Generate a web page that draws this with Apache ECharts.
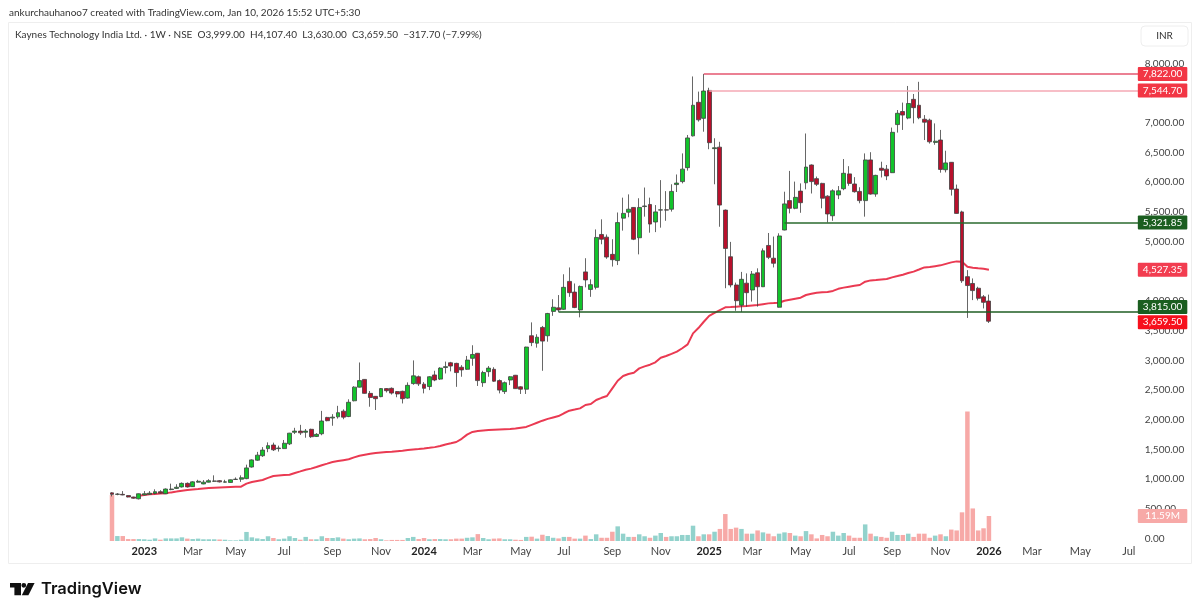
<!DOCTYPE html>
<html><head><meta charset="utf-8">
<style>html,body{margin:0;padding:0;background:#fff}#c{width:1200px;height:614px}</style>
<script src="https://cdn.jsdelivr.net/npm/echarts@6/dist/echarts.min.js"></script>
</head><body><div id="c"></div>
<script>
const opens=[770,745,745,725,700,670,735,745,760,790,
755,825,845,870,930,875,950,920,950,965,
975,950,945,995,1000,1010,1205,1320,1395,1515,
1575,1515,1515,1595,1790,1810,1790,1840,1720,1765,
2040,2030,2050,2145,2055,2320,2550,2680,2445,2395,
2390,2525,2530,2475,2480,2365,2610,2725,2600,2560,
2755,2685,2880,2960,2950,2885,2850,3035,3120,2625,
2810,2850,2660,2475,2670,2750,2555,2515,3415,3290,
3555,3415,3825,3885,3860,4330,4150,3850,4490,4195,
4230,5120,5075,4785,4680,5395,5495,5575,5065,5590,
5625,5330,5530,5535,5545,5960,6010,6245,6780,7345,
7075,7545,6565,6590,5530,4745,4270,3930,4300,4185,
4475,4240,4935,4720,3895,5195,5690,5560,5850,5990,
6290,6060,5980,5765,5435,5785,5890,6140,5970,5845,
5690,6375,5800,6235,6220,6160,6970,7190,7080,7395,
7295,7060,7045,6670,6710,6210,6335,5885,5500,4410,
4295,4215,4070,3999];
const closes=[745,750,735,700,680,755,755,765,790,765,
835,835,865,930,870,955,965,950,975,970,
955,955,990,1000,1025,1190,1325,1405,1490,1565,
1495,1525,1605,1775,1810,1780,1810,1715,1755,1980,
1985,2045,2120,2045,2295,2550,2660,2445,2375,2355,
2525,2490,2450,2435,2355,2580,2740,2605,2530,2725,
2670,2870,2895,2905,2795,2840,3005,3100,2660,2795,
2870,2650,2500,2625,2725,2525,2515,3225,3300,3390,
3325,3790,3895,3850,4230,4140,3890,4245,4355,4275,
5070,5040,4740,4695,5320,5475,5545,5040,5575,5600,
5295,5500,5535,5530,5845,5985,6220,6745,7295,7050,
7535,6665,6580,5615,4885,4270,4005,4365,4140,4455,
4240,4845,4735,4635,5095,5635,5560,5745,5655,6255,
6010,5965,5730,5465,5855,5855,6150,5980,5840,5690,
6375,5800,6115,6200,6105,6840,7160,7130,7325,7255,
7085,7010,6680,6690,6215,6325,5880,5475,4340,4260,
4175,4045,3977.2,3659.5];
const lows=[710,730,730,695,670,660,730,740,745,755,
750,815,835,860,860,870,945,915,945,955,
945,945,940,990,955,1000,1195,1310,1375,1455,
1475,1465,1510,1575,1760,1745,1698,1695,1710,1740,
1975,1900,2020,2010,2045,2310,2545,2440,2220,2165,
2380,2460,2425,2380,2275,2355,2590,2570,2445,2500,
2650,2670,2780,2815,2555,2725,2840,2910,2570,2555,
2725,2640,2445,2435,2585,2520,2435,2435,3240,3215,
2825,3315,3750,3815,3850,4070,3880,3725,4230,4070,
4195,4955,4710,4580,4605,5185,5410,5025,4785,5420,
5150,5160,5235,5350,5505,5835,5980,6195,6770,7020,
6850,6555,5965,5250,4215,4230,3835,3815,3905,3990,
3905,4235,4705,4565,3890,5190,5475,5545,5485,5880,
5810,5935,5560,5320,5350,5715,5865,5940,5825,5645,
5420,5790,5755,6080,6035,6155,6835,6880,7060,6990,
7060,6710,6650,6630,6160,6165,5775,5470,4305,3715,
4015,4010,3875,3630];
const highs=[780,765,800,730,705,760,800,800,830,815,
845,925,915,945,945,965,990,985,1000,1065,
985,990,995,1030,1065,1245,1335,1460,1540,1620,
1615,1565,1660,1780,1865,1915,1845,1850,1775,2150,
2050,2095,2235,2175,2345,2565,2965,2685,2485,2400,
2535,2535,2545,2485,2490,2630,3000,2745,2635,2735,
2825,2885,2980,2975,2960,2920,3075,3255,3125,2825,
2905,2885,2680,2645,2735,2755,2565,3230,3640,3440,
3580,3800,4030,4100,4450,4565,4295,4260,4720,4365,
5205,5375,5120,5040,5490,5740,5795,5580,5730,5910,
5740,5615,6035,5850,5965,6130,6485,6795,7780,7525,
7822,7590,6740,6680,5540,4995,4310,4490,4465,4505,
4550,4885,5145,5085,5140,5840,6190,6010,5980,6820,
6300,6095,5990,5780,5880,5935,6390,6270,6085,5915,
6485,6505,6125,6345,6290,6920,7215,7340,7620,7485,
7690,7130,7070,6990,6880,6530,6340,5960,5520,4520,
4380,4240,4100,4107.4];
const volumes=[21.3,2.3,2.3,.9,.9,.9,.8,.6,1.2,.6,
1.2,1.2,1.2,1.7,1.1,.9,1.1,.8,.8,.8,
.7,.6,.3,.3,.6,4.2,1.7,1.2,.9,2.2,
1.4,.8,1.1,2.2,1.4,.6,1.9,.8,.8,2.2,
1.4,1.4,1.7,1.1,.8,1.1,1.2,.8,.9,1.4,
.8,.3,.5,.5,.5,1.4,1.9,.9,1.4,.8,
.9,.9,.8,.8,1.1,1.1,1.5,1.7,3.2,1.4,
.8,1.1,1.2,.8,.8,.6,.5,1.9,2.0,1.1,
2.9,2.3,1.5,1.2,1.9,1.9,1.1,1.1,2.5,.9,
3.1,1.5,1.5,4.3,6.8,3.4,1.9,1.9,3.1,2.2,
1.5,2.5,3.7,1.9,2.2,2.2,2.8,2.8,7.1,2.2,
3.1,3.1,4.3,5.6,12.5,5.6,6.2,5.6,3.4,3.4,
4.9,4.0,3.4,2.2,3.4,4.0,3.7,2.5,2.2,4.6,
3.1,1.2,2.8,2.2,4.3,2.5,3.7,2.5,1.5,1.5,
7.7,3.4,2.2,1.9,1.5,4.3,2.8,2.8,3.4,1.9,
3.4,3.4,1.5,2.5,3.1,2.2,5.3,4.9,13.3,60.1,
15.1,4.9,5.9,11.59];
const maValues=[null,null,null,null,null,723,734,745,752,758,
762,778,792,807,818,828,835,843,850,857,
861,865,869,872,874,925,953,970,987,1022,
1054,1062,1069,1076,1105,1132,1160,1178,1205,1235,
1262,1290,1305,1320,1335,1368,1396,1412,1428,1441,
1449,1457,1464,1472,1480,1490,1500,1508,1517,1528,
1540,1558,1585,1605,1626,1680,1750,1795,1810,1820,
1828,1833,1838,1842,1845,1852,1868,1880,1915,1950,
1985,2015,2040,2063,2110,2153,2172,2192,2249,2265,
2333,2370,2400,2529,2658,2737,2770,2793,2866,2900,
2928,2967,3045,3074,3110,3147,3205,3270,3455,3545,
3651,3750,3800,3848,3893,3898,3904,3910,3915,3924,
3932,3946,3960,3965,3971,4005,4022,4039,4056,4101,
4122,4140,4146,4151,4170,4205,4225,4241,4255,4269,
4325,4347,4353,4362,4370,4398,4420,4443,4470,4495,
4530,4566,4572,4586,4600,4625,4650,4667,4662,4578,
4561,4550,4544,4527.35];
const tickIndex=[6,15,23,32,41,50,58,67,76,84,93,102,111,119,128,137,145,154,163,171,180,189];
const tickLabels=['2023','Mar','May','Jul','Sep','Nov','2024','Mar','May','Jul','Sep','Nov','2025','Mar','May','Jul','Sep','Nov','2026','Mar','May','Jul'];
const levelValues=[7822,7544.7,5321.85,3815];
const levelStart=[110,111,125,83];
const levelLine=['#e4566f','#f4a8b5','#2a6a2e','#1f5e23'];
const levelBadge=['#f23645','#f23645','#1b5e20','#1b5e20'];
const levelOffset=[0,0,0,-5];
const lastPrice=3659.5, lastMA=4527.35, lastVolume=11.59;

const N=192, F='Lato,"Noto Sans",sans-serif';
const categories=Array.from({length:N},(_,i)=>'w'+i);
const tickMap={};tickIndex.forEach((t,k)=>tickMap[t]=tickLabels[k]);
const upColor='#12c32b',downColor='#b8102c',edge='#404040';
const candle=opens.map((o,i)=>[o,closes[i],lows[i],highs[i]]);
const volData=volumes.map((v,i)=>({value:v,itemStyle:{color:closes[i]>=opens[i]?'#92d2cc':'#f7a9a7'}}));
function badge(text,bg,off,color){return{show:true,position:'end',distance:-2,offset:[25,off||0],formatter:text,
  color:color||'#fff',backgroundColor:bg,fontFamily:F,fontSize:10,width:49.5,height:14,lineHeight:14,align:'center',verticalAlign:'middle',borderRadius:1};}
const fmt=v=>v.toLocaleString('en-US',{minimumFractionDigits:2,maximumFractionDigits:2});
const lastCat=categories[N-1], prevCat=categories[N-2];
function hiddenLevel(v,label){return [{xAxis:prevCat,yAxis:v,lineStyle:{color:'transparent',width:1},label},{xAxis:lastCat,yAxis:v}];}
const levelData=levelValues.map((v,k)=>[
 {xAxis:categories[levelStart[k]],yAxis:v,lineStyle:{color:levelLine[k],width:1.5,type:'solid'},label:badge(fmt(v),levelBadge[k],levelOffset[k])},
 {xAxis:lastCat,yAxis:v}]);
levelData.push(hiddenLevel(lastPrice,badge(fmt(lastPrice),'#f7101c',1)));
const left=109.3,width=1032.96;
const chart=echarts.init(document.getElementById('c'),null,{renderer:'canvas'});
chart.setOption({
 animation:false,backgroundColor:'#fff',
 grid:[{left,width,top:63.4,height:475.2},{left,width,top:400,height:141}],
 xAxis:[
  {type:'category',gridIndex:0,data:categories,show:false},
  {type:'category',gridIndex:1,data:categories,axisLine:{show:false},axisTick:{show:false},splitLine:{show:false},
   axisLabel:{interval:i=>tickMap[i]!==undefined,hideOverlap:false,margin:5,fontFamily:F,fontSize:11,color:'#444',
    formatter:(v,i)=>{const t=tickMap[i];return t?(/^\d/.test(t)?'{y|'+t+'}':t):'';},
    rich:{y:{fontFamily:F,fontSize:11,fontWeight:'bold',color:'#222'}}}}
 ],
 yAxis:[
  {type:'value',gridIndex:0,position:'right',min:0,max:8000,interval:500,axisLine:{show:false},axisTick:{show:false},splitLine:{show:false},
   axisLabel:{margin:2.5,fontFamily:F,fontSize:10,color:'#444',formatter:v=>fmt(v)}},
  {type:'value',gridIndex:1,min:0,max:65.4,show:false,splitLine:{show:false}}
 ],
 series:[
  {type:'bar',name:'Volume',xAxisIndex:1,yAxisIndex:1,data:volData,barWidth:4.5,z:3,
   markLine:{silent:true,symbol:'none',animation:false,z:6,data:[hiddenLevel(lastVolume,badge('11.59M','#f7a9a7',0))]}},
  {type:'line',name:'MA',xAxisIndex:0,yAxisIndex:0,data:maValues,showSymbol:false,connectNulls:false,lineStyle:{color:'#ea3a52',width:2},itemStyle:{color:'#ea3a52'},z:3,
   markLine:{silent:true,symbol:'none',animation:false,data:[hiddenLevel(lastMA,badge(fmt(lastMA),'#f23d50',0))]}},
  {type:'candlestick',name:'KAYNES',xAxisIndex:0,yAxisIndex:0,data:candle,barWidth:4.4,z:4,
   itemStyle:{color:upColor,color0:downColor,borderColor:edge,borderColor0:edge,borderWidth:0.8},
   markLine:{silent:true,symbol:'none',animation:false,data:levelData,z:5}}
 ],
 graphic:[
  {type:'rect',silent:true,shape:{x:8.5,y:22.5,width:1183,height:541},style:{fill:'none',stroke:'#eeeeee',lineWidth:1},z:-1},
  {type:'rect',silent:true,shape:{x:1141,y:26,width:47,height:20,r:4},style:{fill:'#fff',stroke:'#eeeeee',lineWidth:1}},
  {type:'text',style:{x:1164.5,y:36,text:'INR',align:'center',verticalAlign:'middle',font:'10px '+F,fill:'#333'}},
  {type:'text',style:{x:9,y:13,text:'ankurchauhanoo7 created with TradingView.com, Jan 10, 2026 15:52 UTC+5:30',verticalAlign:'middle',font:'10px '+F,fill:'#333'}},
  {type:'text',style:{x:15,y:35,text:'Kaynes Technology India Ltd. · 1W · NSE  O3,999.00  H4,107.40  L3,630.00  C3,659.50  −317.70 (−7.99%)',verticalAlign:'middle',font:'10px '+F,fill:'#333'}},
  {type:'polygon',silent:true,shape:{points:[[10,583],[21,583],[21,595.3],[14.4,595.3],[14.4,587.4],[10,587.4]]},style:{fill:'#111'}},
  {type:'circle',silent:true,shape:{cx:23.8,cy:585.3,r:2.4},style:{fill:'#111'}},
  {type:'polygon',silent:true,shape:{points:[[28,583],[34.6,583],[28.4,595.3],[21.8,595.3]]},style:{fill:'#111'}},
  {type:'text',style:{x:41,y:589,text:'TradingView',verticalAlign:'middle',font:'600 16.5px Inter,"Noto Sans",sans-serif',fill:'#111'}}
 ]
});
</script></body></html>
